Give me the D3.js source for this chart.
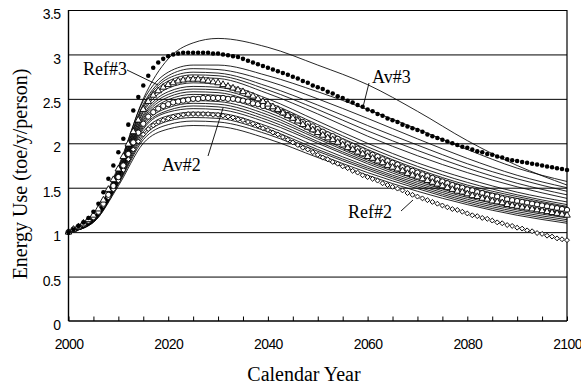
<!DOCTYPE html>
<html>
<head>
<meta charset="utf-8">
<script src="https://cdn.jsdelivr.net/npm/d3@7/dist/d3.min.js"></script>
<style>
  html, body { margin: 0; padding: 0; background: #fff; }
  svg { display: block; }
  .tick text { font-family: Arial, "Liberation Sans", sans-serif; }
</style>
</head>
<body>
<svg id="chart" width="581" height="387"></svg>
<script>
// Calendar years for the yearly marker series and for the ensemble runs
const markerYears = d3.range(2000, 2101);
const runYears = [2000, 2005, 2010, 2015, 2020, 2025, 2030, 2040, 2050, 2060, 2070, 2080, 2090, 2100];
const xTickLabels = [2000, 2020, 2040, 2060, 2080, 2100];
const yTickLabels = [0, 0.5, 1, 1.5, 2, 2.5, 3, 3.5];

// Av#3 (filled dots), toe/y/person per year 2000-2100
const av3 = [
  1.00,1.03,1.07,1.11,1.16,1.23,1.32,1.45,1.60,1.75,
  1.90,2.05,2.21,2.37,2.52,2.65,2.76,2.85,2.91,2.95,
  2.98,3.00,3.01,3.02,3.02,3.02,3.02,3.02,3.02,3.01,
  3.01,3.00,2.99,2.98,2.97,2.95,2.93,2.91,2.89,2.87,
  2.85,2.83,2.81,2.79,2.77,2.75,2.73,2.70,2.68,2.65,
  2.63,2.61,2.58,2.56,2.53,2.51,2.48,2.46,2.43,2.41,
  2.38,2.36,2.33,2.31,2.28,2.26,2.24,2.21,2.19,2.17,
  2.15,2.13,2.10,2.08,2.06,2.04,2.02,2.00,1.98,1.96,
  1.95,1.93,1.91,1.90,1.88,1.87,1.85,1.84,1.82,1.81,
  1.80,1.79,1.78,1.77,1.76,1.75,1.74,1.73,1.72,1.71,
  1.70
];

// Ref#3 (open triangles)
const ref3 = [
  1.00,1.03,1.06,1.10,1.14,1.19,1.26,1.36,1.48,1.59,
  1.71,1.85,1.99,2.13,2.26,2.38,2.47,2.54,2.59,2.63,
  2.66,2.68,2.70,2.71,2.72,2.72,2.72,2.71,2.70,2.69,
  2.68,2.66,2.64,2.62,2.60,2.58,2.55,2.53,2.50,2.47,
  2.44,2.41,2.38,2.34,2.31,2.28,2.25,2.21,2.18,2.15,
  2.12,2.09,2.06,2.04,2.01,1.98,1.95,1.93,1.90,1.88,
  1.85,1.83,1.80,1.78,1.75,1.73,1.71,1.69,1.66,1.64,
  1.62,1.60,1.58,1.56,1.54,1.52,1.50,1.48,1.46,1.45,
  1.43,1.41,1.40,1.38,1.37,1.35,1.34,1.33,1.31,1.30,
  1.29,1.28,1.27,1.26,1.25,1.24,1.23,1.22,1.21,1.20,
  1.19
];

// Av#2 (open circles)
const av2 = [
  1.00,1.03,1.06,1.09,1.13,1.17,1.23,1.32,1.42,1.52,
  1.62,1.75,1.88,2.01,2.12,2.22,2.30,2.35,2.39,2.42,
  2.44,2.46,2.47,2.48,2.49,2.50,2.50,2.51,2.51,2.51,
  2.51,2.51,2.50,2.50,2.49,2.48,2.47,2.45,2.44,2.42,
  2.41,2.39,2.37,2.35,2.32,2.30,2.27,2.24,2.22,2.19,
  2.16,2.13,2.10,2.08,2.05,2.02,1.99,1.97,1.94,1.92,
  1.89,1.87,1.85,1.82,1.80,1.78,1.76,1.73,1.71,1.69,
  1.67,1.65,1.63,1.61,1.59,1.57,1.55,1.53,1.51,1.50,
  1.48,1.47,1.45,1.44,1.42,1.41,1.40,1.38,1.37,1.36,
  1.35,1.34,1.33,1.32,1.31,1.30,1.29,1.28,1.27,1.26,
  1.25
];

// Ref#2 (open diamonds)
const ref2 = [
  1.00,1.03,1.06,1.09,1.12,1.16,1.22,1.30,1.39,1.48,
  1.58,1.70,1.82,1.93,2.02,2.10,2.16,2.20,2.24,2.26,
  2.28,2.30,2.31,2.32,2.33,2.33,2.33,2.33,2.33,2.32,
  2.32,2.31,2.30,2.29,2.27,2.26,2.24,2.22,2.20,2.17,
  2.15,2.12,2.10,2.07,2.04,2.01,1.98,1.95,1.93,1.90,
  1.87,1.84,1.82,1.79,1.77,1.74,1.72,1.69,1.67,1.64,
  1.62,1.60,1.58,1.55,1.53,1.51,1.49,1.47,1.44,1.42,
  1.40,1.38,1.36,1.34,1.32,1.30,1.28,1.26,1.25,1.23,
  1.21,1.19,1.18,1.16,1.15,1.13,1.11,1.10,1.08,1.07,
  1.05,1.04,1.02,1.01,0.99,0.98,0.96,0.95,0.93,0.92,
  0.91
];

// Individual ensemble runs (thin lines), values at runYears
const runs = [
  [1.00,1.16,1.72,2.50,2.95,3.13,3.18,3.08,2.88,2.66,2.36,2.03,1.75,1.53],
  [1.00,1.17,1.74,2.48,2.80,2.88,2.88,2.76,2.58,2.38,2.16,1.93,1.72,1.57],
  [1.00,1.16,1.71,2.44,2.76,2.84,2.83,2.70,2.50,2.28,2.05,1.83,1.64,1.50],
  [1.00,1.16,1.70,2.42,2.73,2.80,2.79,2.64,2.43,2.20,1.98,1.77,1.60,1.46],
  [1.00,1.15,1.68,2.40,2.70,2.77,2.76,2.60,2.38,2.14,1.92,1.72,1.55,1.42],
  [1.00,1.15,1.67,2.37,2.67,2.74,2.73,2.56,2.33,2.08,1.86,1.67,1.51,1.38],
  [1.00,1.15,1.66,2.35,2.62,2.68,2.67,2.50,2.25,2.00,1.78,1.60,1.45,1.34],
  [1.00,1.15,1.65,2.32,2.58,2.64,2.63,2.46,2.21,1.96,1.74,1.56,1.42,1.31],
  [1.00,1.14,1.64,2.30,2.55,2.61,2.60,2.43,2.18,1.93,1.71,1.53,1.40,1.29],
  [1.00,1.14,1.63,2.28,2.52,2.58,2.57,2.40,2.15,1.90,1.69,1.51,1.38,1.28],
  [1.00,1.14,1.62,2.26,2.49,2.55,2.54,2.38,2.13,1.88,1.67,1.49,1.36,1.27],
  [1.00,1.14,1.62,2.24,2.46,2.52,2.51,2.35,2.10,1.86,1.65,1.47,1.35,1.26],
  [1.00,1.13,1.61,2.22,2.43,2.48,2.47,2.32,2.07,1.83,1.63,1.46,1.33,1.24],
  [1.00,1.13,1.60,2.20,2.40,2.45,2.44,2.29,2.05,1.81,1.61,1.44,1.31,1.22],
  [1.00,1.13,1.59,2.18,2.37,2.42,2.41,2.26,2.02,1.79,1.59,1.42,1.30,1.21],
  [1.00,1.13,1.58,2.16,2.35,2.39,2.38,2.23,2.00,1.77,1.57,1.41,1.29,1.20],
  [1.00,1.12,1.57,2.13,2.31,2.35,2.34,2.19,1.96,1.74,1.55,1.39,1.27,1.18],
  [1.00,1.12,1.56,2.10,2.28,2.32,2.31,2.16,1.93,1.72,1.53,1.37,1.25,1.16],
  [1.00,1.12,1.55,2.07,2.25,2.29,2.28,2.13,1.91,1.70,1.51,1.35,1.23,1.14],
  [1.00,1.11,1.54,2.04,2.21,2.25,2.24,2.10,1.88,1.67,1.49,1.33,1.21,1.12],
  [1.00,1.11,1.52,2.00,2.16,2.20,2.19,2.05,1.84,1.64,1.46,1.31,1.19,1.10]
];

// Callout labels: text, text anchor point, leader line start and end
const callouts = [
  { text: "Ref#3", tx: 83,  ty: 75,  x1: 127, y1: 70,  x2: 158, y2: 85 },
  { text: "Av#3",  tx: 372, ty: 83,  x1: 369, y1: 83,  x2: 363, y2: 107 },
  { text: "Av#2",  tx: 162, ty: 171, x1: 208, y1: 156, x2: 223, y2: 108 },
  { text: "Ref#2", tx: 348, ty: 218, x1: 401, y1: 211, x2: 413, y2: 200 }
];

const serif = "'Liberation Serif', 'Times New Roman', 'DejaVu Serif', serif";
const svg = d3.select("#chart");
const plotLeft = 68.5, plotRight = 567, plotTop = 10, plotBottom = 321;

const x = d3.scaleLinear().domain([2000, 2100]).range([plotLeft, plotRight]);
const y = d3.scaleLinear().domain([0, 3.5]).range([plotBottom, plotTop]);

// Horizontal gridlines
svg.append("g")
  .attr("transform", `translate(${plotLeft},0)`)
  .call(d3.axisLeft(y).tickValues(yTickLabels.filter(v => v > 0)).tickSize(-(plotRight - plotLeft)).tickFormat(""))
  .call(g => g.select(".domain").remove())
  .call(g => g.selectAll("line").attr("stroke", "#000").attr("stroke-width", 1));

// Right border
svg.append("line")
  .attr("x1", plotRight).attr("x2", plotRight).attr("y1", plotTop).attr("y2", plotBottom)
  .attr("stroke", "#000").attr("stroke-width", 1.2);

// Ensemble runs
const runLine = d3.line()
  .x((d, i) => x(runYears[i]))
  .y(d => y(d))
  .curve(d3.curveMonotoneX);

svg.append("g")
  .selectAll("path")
  .data(runs)
  .join("path")
  .attr("d", runLine)
  .attr("fill", "none")
  .attr("stroke", "#000")
  .attr("stroke-width", 0.85);

// Marker series
function markers(values, drawFn) {
  const g = svg.append("g");
  g.selectAll("path")
    .data(values)
    .join("path")
    .attr("transform", (d, i) => `translate(${x(markerYears[i])},${y(d)})`)
    .call(drawFn);
  return g;
}

markers(ref2, s => s
  .attr("d", d3.symbol(d3.symbolSquare, 12)())
  .attr("transform", (d, i) => `translate(${x(markerYears[i])},${y(d)}) rotate(45)`)
  .attr("fill", "#fff").attr("stroke", "#000").attr("stroke-width", 0.9));

markers(av2, s => s
  .attr("d", d3.symbol(d3.symbolCircle, 22)())
  .attr("fill", "#fff").attr("stroke", "#000").attr("stroke-width", 0.9));

markers(ref3, s => s
  .attr("d", d3.symbol(d3.symbolTriangle, 19)())
  .attr("fill", "#fff").attr("stroke", "#000").attr("stroke-width", 0.9));

markers(av3, s => s
  .attr("d", d3.symbol(d3.symbolCircle, 16)())
  .attr("fill", "#000").attr("stroke", "none"));

// Bottom axis: labels every 20 years, inward minor ticks every 5 years
svg.append("g")
  .attr("transform", `translate(0,${plotBottom})`)
  .call(d3.axisBottom(x).tickValues(d3.range(2000, 2101, 5)).tickSize(-4.5).tickFormat(""))
  .call(g => g.select(".domain").remove())
  .call(g => g.selectAll("line").attr("stroke", "#000").attr("stroke-width", 1));

svg.append("g")
  .attr("transform", `translate(0,${plotBottom})`)
  .call(d3.axisBottom(x).tickValues(xTickLabels).tickSize(0).tickPadding(18).tickFormat(d3.format("d")))
  .call(g => g.select(".domain").remove())
  .call(g => g.selectAll("text")
    .attr("font-size", 14).attr("fill", "#000").attr("letter-spacing", -0.6));

// Left axis labels
svg.append("g")
  .attr("transform", `translate(${plotLeft},0)`)
  .call(d3.axisLeft(y).tickValues(yTickLabels).tickSize(0).tickPadding(8).tickFormat(d => String(d)))
  .call(g => g.select(".domain").remove())
  .call(g => g.selectAll("text")
    .attr("font-size", 14).attr("fill", "#000").attr("letter-spacing", -0.6)
    .attr("dy", "0.62em"));

// Axis lines
svg.append("line")
  .attr("x1", plotLeft).attr("x2", plotLeft).attr("y1", plotTop).attr("y2", plotBottom)
  .attr("stroke", "#000").attr("stroke-width", 1.4);
svg.append("line")
  .attr("x1", plotLeft).attr("x2", plotRight).attr("y1", plotBottom).attr("y2", plotBottom)
  .attr("stroke", "#000").attr("stroke-width", 1.4);

// Axis titles
svg.append("text")
  .attr("x", 304).attr("y", 381)
  .attr("text-anchor", "middle")
  .attr("font-family", serif)
  .attr("font-size", 20)
  .text("Calendar Year");

svg.append("text")
  .attr("transform", "translate(27,174) rotate(-90)")
  .attr("text-anchor", "middle")
  .attr("font-family", serif)
  .attr("font-size", 20)
  .text("Energy Use (toe/y/person)");

// Callouts
const cg = svg.append("g");
cg.selectAll("line")
  .data(callouts)
  .join("line")
  .attr("x1", d => d.x1).attr("y1", d => d.y1)
  .attr("x2", d => d.x2).attr("y2", d => d.y2)
  .attr("stroke", "#000").attr("stroke-width", 0.9);
cg.selectAll("text")
  .data(callouts)
  .join("text")
  .attr("x", d => d.tx).attr("y", d => d.ty)
  .attr("font-family", serif)
  .attr("font-size", 18)
  .text(d => d.text);
</script>
</body>
</html>
